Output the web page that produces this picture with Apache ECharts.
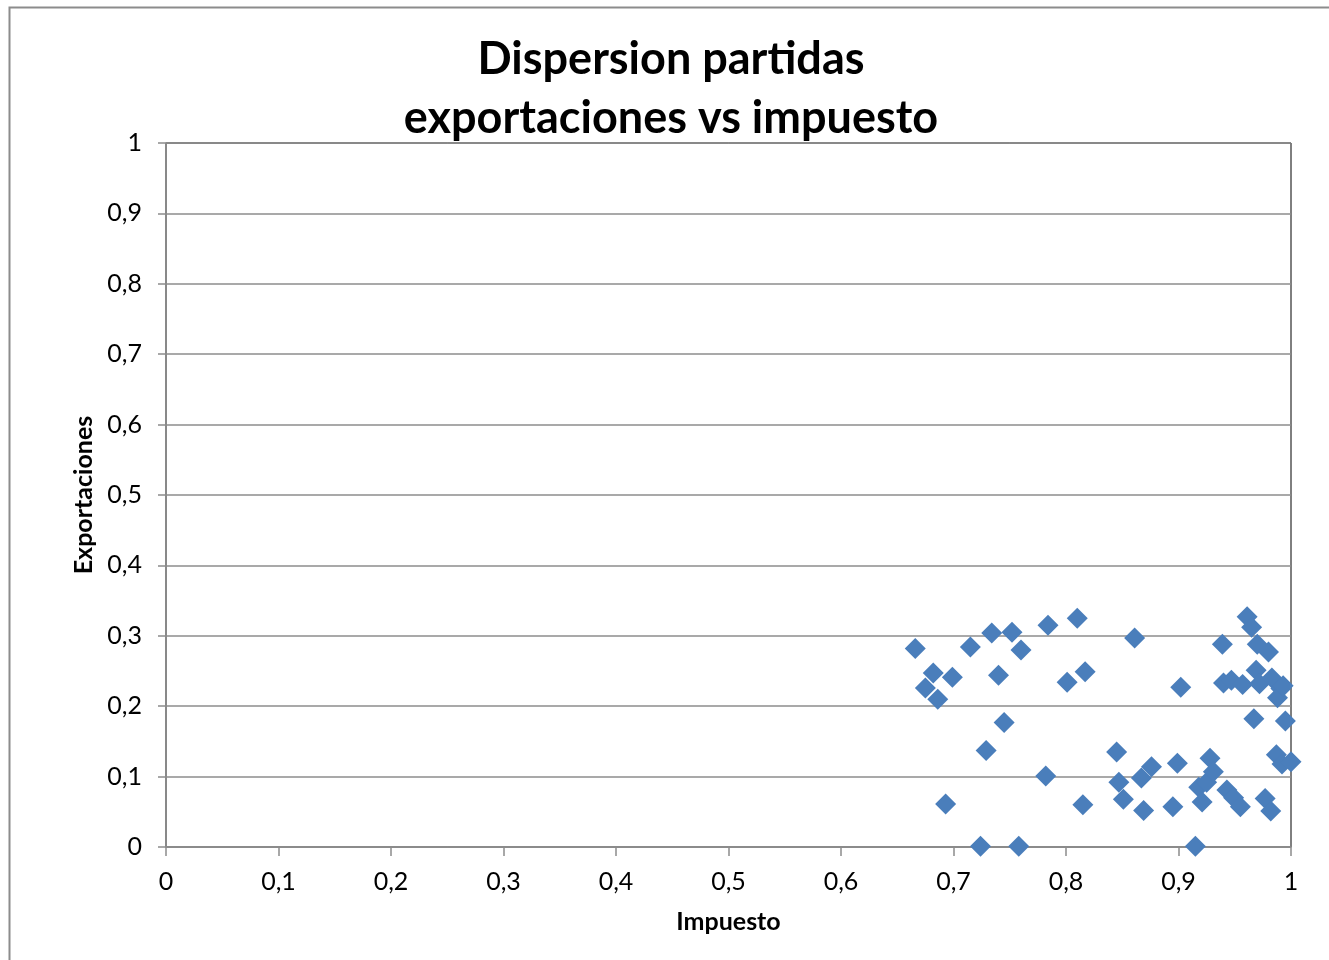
<!DOCTYPE html>
<html>
<head>
<meta charset="utf-8">
<title>Dispersion partidas exportaciones vs impuesto</title>
<script src="https://cdn.jsdelivr.net/npm/echarts@6/dist/echarts.min.js"></script>
<style>
  html, body { margin: 0; padding: 0; background: #fff; }
  #chart { width: 1329px; height: 960px; }
</style>
</head>
<body>
<div id="chart"></div>
<script>
// valores: impuesto (x) y exportaciones (y)
const impuesto = [
  0.666, 0.675, 0.682, 0.686, 0.699, 0.693, 0.715, 0.734, 0.729, 0.740,
  0.745, 0.752, 0.760, 0.724, 0.758, 0.784, 0.782, 0.801, 0.810, 0.817,
  0.815, 0.845, 0.847, 0.851, 0.861, 0.867, 0.869, 0.876, 0.895, 0.899,
  0.902, 0.915, 0.918, 0.921, 0.925, 0.928, 0.931, 0.939, 0.940, 0.947,
  0.943, 0.949, 0.955, 0.957, 0.961, 0.965, 0.970, 0.967, 0.969, 0.972,
  0.980, 0.977, 0.982, 0.983, 0.991, 0.988, 0.993, 0.995, 0.987, 0.992,
  1.000
];
const exportaciones = [
  0.282, 0.226, 0.247, 0.210, 0.241, 0.061, 0.284, 0.304, 0.137, 0.244,
  0.177, 0.305, 0.280, 0.001, 0.001, 0.315, 0.101, 0.234, 0.325, 0.249,
  0.060, 0.135, 0.092, 0.068, 0.297, 0.098, 0.052, 0.114, 0.057, 0.119,
  0.227, 0.001, 0.085, 0.064, 0.092, 0.126, 0.107, 0.288, 0.233, 0.237,
  0.081, 0.070, 0.057, 0.231, 0.327, 0.312, 0.288, 0.182, 0.251, 0.232,
  0.277, 0.069, 0.051, 0.240, 0.225, 0.212, 0.229, 0.179, 0.131, 0.118,
  0.121
];
const titulo = "Dispersion partidas\nexportaciones vs impuesto";
const tituloX = "Impuesto";
const tituloY = "Exportaciones";

const puntos = impuesto.map((x, i) => [x, exportaciones[i]]);
const coma = v => Number(v.toFixed(1)).toString().replace(".", ",");
const FONT = "Lato";

const chart = echarts.init(document.getElementById("chart"));
chart.setOption({
  animation: false,
  backgroundColor: "#fff",
  graphic: [{
    type: "rect", silent: true,
    shape: { x: 9.5, y: 7.5, width: 1400, height: 1000 },
    style: { fill: "none", stroke: "#8c8c8c", lineWidth: 2 }
  }],
  title: {
    text: titulo, left: 666, top: 25, textAlign: "center",
    textStyle: { fontFamily: FONT, fontWeight: "bold", fontSize: 45, lineHeight: 59, color: "#000" }
  },
  grid: { left: 166, top: 143, width: 1125, height: 704, show: true, borderColor: "#000", borderWidth: 1 },
  xAxis: {
    type: "value", min: 0, max: 1, interval: 0.1,
    name: tituloX, nameLocation: "middle", nameGap: 62,
    nameTextStyle: { fontFamily: FONT, fontWeight: "bold", fontSize: 25, color: "#000" },
    axisLine: { show: true, lineStyle: { color: "#8c8c8c", width: 1.5 } },
    axisTick: { show: true, length: 9, lineStyle: { color: "#8c8c8c", width: 1.5 } },
    axisLabel: { formatter: coma, margin: 22, fontFamily: FONT, fontSize: 25, color: "#000" },
    splitLine: { show: false }
  },
  yAxis: {
    type: "value", min: 0, max: 1, interval: 0.1,
    name: tituloY, nameLocation: "middle", nameGap: 67, nameRotate: 90,
    nameTextStyle: { fontFamily: FONT, fontWeight: "bold", fontSize: 25, color: "#000" },
    axisLine: { show: true, lineStyle: { color: "#8c8c8c", width: 1.5 } },
    axisTick: { show: true, length: 8, lineStyle: { color: "#8c8c8c", width: 1.5 } },
    axisLabel: { formatter: coma, margin: 24, fontFamily: FONT, fontSize: 25, color: "#000" },
    splitLine: { show: true, lineStyle: { color: "#8c8c8c", width: 1.5 } }
  },
  series: [{
    type: "scatter",
    data: puntos,
    symbol: "diamond",
    symbolSize: 21,
    itemStyle: { color: "#4a7ebb", opacity: 1 }
  }]
});
</script>
</body>
</html>
